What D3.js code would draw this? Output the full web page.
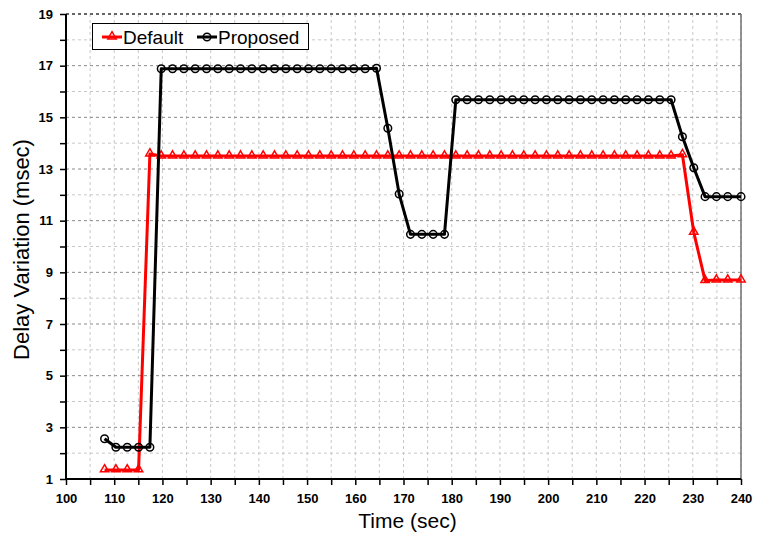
<!DOCTYPE html>
<html>
<head>
<meta charset="utf-8">
<script src="https://cdn.jsdelivr.net/npm/d3@7"></script>
<style>
  html, body { margin: 0; padding: 0; background: #fff; }
  svg { display: block; }
</style>
</head>
<body>
<svg id="chart" width="757" height="536"></svg>
<script>
// Sample times (sec)
const times = [108, 110.35, 112.7, 115.05, 117.4, 119.75, 122.1, 124.45, 126.8, 129.15,
  131.5, 133.85, 136.2, 138.55, 140.9, 143.25, 145.6, 147.95, 150.3, 152.65,
  155, 157.35, 159.7, 162.05, 164.4, 166.75, 169.1, 171.45, 173.8, 176.15,
  178.5, 180.85, 183.2, 185.55, 187.9, 190.25, 192.6, 194.95, 197.3, 199.65,
  202, 204.35, 206.7, 209.05, 211.4, 213.75, 216.1, 218.45, 220.8, 223.15,
  225.5, 227.85, 230.2, 232.55, 234.9, 237.25, 240];

// Delay variation (msec), Default scheme
const defaultValues = [1.35, 1.35, 1.35, 1.35, 13.58, 13.5, 13.5, 13.5, 13.5, 13.5,
  13.5, 13.5, 13.5, 13.5, 13.5, 13.5, 13.5, 13.5, 13.5, 13.5,
  13.5, 13.5, 13.5, 13.5, 13.5, 13.5, 13.5, 13.5, 13.5, 13.5,
  13.5, 13.5, 13.5, 13.5, 13.5, 13.5, 13.5, 13.5, 13.5, 13.5,
  13.5, 13.5, 13.5, 13.5, 13.5, 13.5, 13.5, 13.5, 13.5, 13.5,
  13.5, 13.55, 10.55, 8.68, 8.7, 8.7, 8.7];

// Delay variation (msec), Proposed scheme
const proposedValues = [2.56, 2.23, 2.23, 2.23, 2.23, 16.88, 16.88, 16.88, 16.88, 16.88,
  16.88, 16.88, 16.88, 16.88, 16.88, 16.88, 16.88, 16.88, 16.88, 16.88,
  16.88, 16.88, 16.88, 16.88, 16.9, 14.58, 12.03, 10.47, 10.47, 10.47,
  10.47, 15.68, 15.68, 15.68, 15.68, 15.68, 15.68, 15.68, 15.68, 15.68,
  15.68, 15.68, 15.68, 15.68, 15.68, 15.68, 15.68, 15.68, 15.68, 15.68,
  15.68, 14.25, 13.05, 11.93, 11.93, 11.93, 11.93];

const xTickValues = [100, 110, 120, 130, 140, 150, 160, 170, 180, 190, 200, 210, 220, 230, 240];
const yTickValues = [1, 3, 5, 7, 9, 11, 13, 15, 17, 19];
const seriesNames = ["Default", "Proposed"];

const svg = d3.select("#chart");
const plotL = 66, plotR = 741, plotT = 14, plotB = 479;

const x = d3.scaleLinear().domain([100, 240]).range([plotL, plotR]);
const y = d3.scaleLinear().domain([1, 19]).range([plotB, plotT]);

const font = "'Liberation Sans', Arial, sans-serif";

// Minor grid: vertical every 5 s, horizontal every 1 ms
const grid = svg.append("g");
grid.selectAll("line.vx").data(d3.range(105, 241, 5)).join("line")
  .attr("x1", d => x(d)).attr("x2", d => x(d))
  .attr("y1", plotT).attr("y2", plotB)
  .attr("stroke", "#c8c8c8").attr("stroke-width", 1).attr("stroke-dasharray", "3,3");
grid.selectAll("line.hm").data(d3.range(2, 19, 2)).join("line")
  .attr("x1", plotL).attr("x2", plotR)
  .attr("y1", d => y(d)).attr("y2", d => y(d))
  .attr("stroke", "#c8c8c8").attr("stroke-width", 1).attr("stroke-dasharray", "3,3");
// Major horizontal grid
grid.selectAll("line.hM").data(yTickValues.filter(v => v > 1)).join("line")
  .attr("x1", plotL).attr("x2", plotR)
  .attr("y1", d => y(d)).attr("y2", d => y(d))
  .attr("stroke", d => d === 19 ? "#666" : "#8a8a8a")
  .attr("stroke-width", d => d === 19 ? 2 : 1)
  .attr("stroke-dasharray", "3,3");

// Right border of the plot area
svg.append("line")
  .attr("x1", plotR).attr("x2", plotR).attr("y1", plotT).attr("y2", plotB)
  .attr("stroke", "#707070").attr("stroke-width", 1.5);

// Axes
const xAxis = d3.axisBottom(x).tickValues(d3.range(100, 241, 5)).tickSize(6)
  .tickFormat(d => xTickValues.includes(d) ? d : "");
const gx = svg.append("g").attr("transform", `translate(0,${plotB})`).call(xAxis);
gx.select(".domain").attr("stroke", "#000").attr("stroke-width", 2).attr("d", `M${plotL},0H${plotR}`);
gx.selectAll(".tick line").attr("stroke", "#000").attr("stroke-width", 1.5);
gx.selectAll(".tick text").attr("font-family", font).attr("font-weight", "bold")
  .attr("font-size", 13).attr("fill", "#000").attr("dy", "1.15em");

const yAxis = d3.axisLeft(y).tickValues(d3.range(1, 20, 1)).tickSize(6)
  .tickFormat(d => yTickValues.includes(d) ? d : "");
const gy = svg.append("g").attr("transform", `translate(${plotL},0)`).call(yAxis);
gy.select(".domain").attr("stroke", "#000").attr("stroke-width", 2).attr("d", `M0,${plotT}V${plotB}`);
gy.selectAll(".tick line").attr("stroke", "#000").attr("stroke-width", 1.5);
gy.selectAll(".tick text").attr("font-family", font).attr("font-weight", "bold")
  .attr("font-size", 13).attr("fill", "#000").attr("x", -13);

// Axis titles
svg.append("text")
  .attr("x", (plotL + plotR) / 2 + 4).attr("y", 528)
  .attr("text-anchor", "middle")
  .attr("font-family", font).attr("font-size", 21).attr("fill", "#000")
  .text("Time (sec)");
svg.append("text")
  .attr("transform", `translate(29,${(plotT + plotB) / 2 + 3}) rotate(-90)`)
  .attr("text-anchor", "middle")
  .attr("font-family", font).attr("font-size", 22).attr("fill", "#000")
  .text("Delay Variation (msec)");

// Series lines with rounded joins
const line = d3.line().x(d => x(d[0])).y(d => y(d[1])).curve(d3.curveLinear);

const defaultPts = times.map((t, i) => [t, defaultValues[i]]);
const proposedPts = times.map((t, i) => [t, proposedValues[i]]);

const tri = d3.symbol().type(d3.symbolTriangle).size(30);

function drawSeries(pts, color, kind) {
  const g = svg.append("g");
  g.append("path").datum(pts)
    .attr("d", line).attr("fill", "none")
    .attr("stroke", color).attr("stroke-width", 3).attr("stroke-linejoin", "round");
  if (kind === "triangle") {
    g.selectAll("path.m").data(pts).join("path")
      .attr("transform", d => `translate(${x(d[0])},${y(d[1]) - 0.5})`)
      .attr("d", tri).attr("fill", "none").attr("stroke", color).attr("stroke-width", 1.5);
  } else {
    g.selectAll("circle").data(pts).join("circle")
      .attr("cx", d => x(d[0])).attr("cy", d => y(d[1])).attr("r", 3.8)
      .attr("fill", "none").attr("stroke", color).attr("stroke-width", 1.5);
  }
}
drawSeries(defaultPts, "#ff0000", "triangle");
drawSeries(proposedPts, "#000000", "circle");

// Legend
const lg = svg.append("g");
lg.append("rect").attr("x", 92.5).attr("y", 23.5).attr("width", 216).attr("height", 26)
  .attr("fill", "#fff").attr("stroke", "#000").attr("stroke-width", 1);
const legendItems = [
  { name: seriesNames[0], color: "#ff0000", kind: "triangle", x0: 102 },
  { name: seriesNames[1], color: "#000000", kind: "circle", x0: 197 }
];
legendItems.forEach(it => {
  lg.append("line").attr("x1", it.x0).attr("x2", it.x0 + 20).attr("y1", 37).attr("y2", 37)
    .attr("stroke", it.color).attr("stroke-width", 3);
  if (it.kind === "triangle") {
    lg.append("path").attr("transform", `translate(${it.x0 + 10},36.5)`).attr("d", tri)
      .attr("fill", "none").attr("stroke", it.color).attr("stroke-width", 1.5);
  } else {
    lg.append("circle").attr("cx", it.x0 + 10).attr("cy", 37).attr("r", 3.8)
      .attr("fill", "none").attr("stroke", it.color).attr("stroke-width", 1.5);
  }
  lg.append("text").attr("x", it.x0 + 21).attr("y", 44)
    .attr("font-family", font).attr("font-size", 19).attr("fill", "#000")
    .text(it.name);
});
</script>
</body>
</html>
